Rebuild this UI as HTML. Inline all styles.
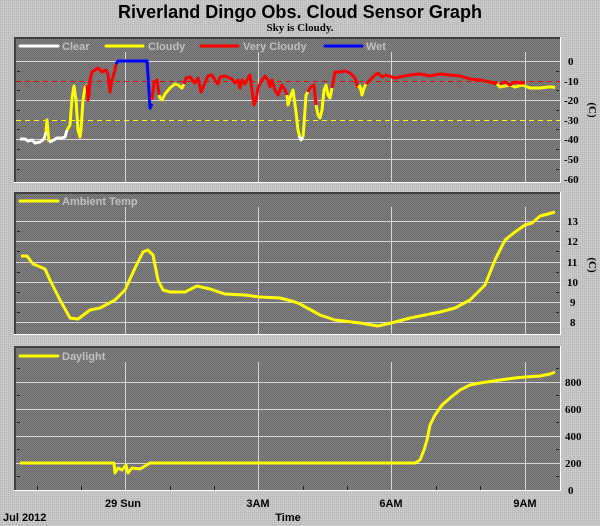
<!DOCTYPE html>
<html><head><meta charset="utf-8"><style>
html,body{margin:0;padding:0;background:#c4c4c4;}
svg{display:block;font-family:"Liberation Sans",sans-serif;}
</style></head><body>
<svg width="600" height="526" viewBox="0 0 600 526" xmlns="http://www.w3.org/2000/svg">
<defs>
<pattern id="pg" width="2" height="2" patternUnits="userSpaceOnUse"><rect width="2" height="2" fill="#c8c8c8"/><rect width="1" height="1" fill="#b4b4b4"/></pattern>
<pattern id="pn" width="2" height="2" patternUnits="userSpaceOnUse"><rect width="2" height="2" fill="#808080"/><rect width="1" height="1" fill="#6c6c6c"/><rect x="1" y="1" width="1" height="1" fill="#6c6c6c"/></pattern>
</defs>
<rect width="600" height="526" fill="url(#pg)"/>
<text x="300" y="18" text-anchor="middle" font-size="18" font-weight="bold" textLength="364" lengthAdjust="spacingAndGlyphs">Riverland Dingo Obs. Cloud Sensor Graph</text>
<text x="300" y="31" text-anchor="middle" font-size="11" font-weight="bold" font-family="Liberation Serif,serif">Sky is Cloudy.</text>

<g>
<rect x="14" y="37" width="546" height="145" fill="url(#pn)"/>
<rect x="14" y="37" width="546" height="2" fill="#404040"/><rect x="14" y="37" width="2" height="145" fill="#404040"/>
<rect x="14" y="182" width="546" height="1" fill="#fff"/><rect x="560" y="37" width="1" height="146" fill="#fff"/>
<rect x="14" y="192" width="546" height="142" fill="url(#pn)"/>
<rect x="14" y="192" width="546" height="2" fill="#404040"/><rect x="14" y="192" width="2" height="142" fill="#404040"/>
<rect x="14" y="334" width="546" height="1" fill="#fff"/><rect x="560" y="192" width="1" height="143" fill="#fff"/>
<rect x="14" y="346" width="546" height="144" fill="url(#pn)"/>
<rect x="14" y="346" width="546" height="2" fill="#404040"/><rect x="14" y="346" width="2" height="144" fill="#404040"/>
<rect x="14" y="490" width="546" height="1" fill="#fff"/><rect x="560" y="346" width="1" height="145" fill="#fff"/>
</g>

<g stroke="#d8d8d8" stroke-width="1" shape-rendering="crispEdges">
<path d="M16 61.5H560M16 100.5H560M16 139.5H560M16 159.5H560"/>
<path d="M125.5 52V182M258.5 52V182M391.5 52V182M525.5 52V182"/>
<path d="M16 221.5H560M16 241.5H560M16 262.5H560M16 282.5H560M16 302.5H560M16 322.5H560"/>
<path d="M125.5 207V334M258.5 207V334M391.5 207V334M525.5 207V334"/>
<path d="M16 382.5H560M16 409.5H560M16 436.5H560M16 463.5H560"/>
<path d="M125.5 362V490M258.5 362V490M391.5 362V490M525.5 362V490"/>
</g>
<g stroke="#202020" stroke-width="1" shape-rendering="crispEdges">
<path d="M17 71.5h3M17 90.5h3M17 110.5h3M17 129.5h3M17 149.5h3M17 169.5h3M556 71.5h3M556 90.5h3M556 110.5h3M556 129.5h3M556 149.5h3M556 169.5h3"/>
<path d="M17 231.5h3M17 251.5h3M17 272.5h3M17 292.5h3M17 312.5h3M556 231.5h3M556 251.5h3M556 272.5h3M556 292.5h3M556 312.5h3"/>
<path d="M17 368.5h3M17 395.5h3M17 422.5h3M17 449.5h3M17 476.5h3M556 368.5h3M556 395.5h3M556 422.5h3M556 449.5h3M556 476.5h3"/>
<path d="M37.5 486v4M81.5 486v4M170.5 486v4M214.5 486v4M303.5 486v4M347.5 486v4M436.5 486v4M480.5 486v4"/>
</g>
<path d="M16 81.5H560" stroke="#ff0000" stroke-width="1.2" stroke-dasharray="5,4" shape-rendering="crispEdges"/>
<path d="M16 120.5H560" stroke="#ffff00" stroke-width="1.2" stroke-dasharray="5,4" shape-rendering="crispEdges"/>

<g stroke-width="3" stroke-linecap="round" font-size="11" font-weight="bold" fill="#c0c0c0">
<path d="M20 46H58" stroke="#fff"/><text x="62" y="50">Clear</text>
<path d="M106 46H143" stroke="#ff0"/><text x="148" y="50">Cloudy</text>
<path d="M201 46H238" stroke="#f00"/><text x="243" y="50">Very Cloudy</text>
<path d="M325 46H362" stroke="#00f"/><text x="366" y="50">Wet</text>
<path d="M20 201H58" stroke="#ff0"/><text x="62" y="205">Ambient Temp</text>
<path d="M20 356H58" stroke="#ff0"/><text x="62" y="360">Daylight</text>
</g>

<g fill="none" stroke-width="3" stroke-linejoin="round">
<polyline stroke="#fff" points="20,139 25,139 28,141 32,140 35,143 40,142 44,139 46,132"/>
<polyline stroke="#ff0" points="46,132 47,120 49,142"/>
<polyline stroke="#fff" points="49,142 52,141 57,138 62,138 65,137 67,130"/>
<polyline stroke="#ff0" points="67,130 70,125 72,98 74,86 76,100 78,130 80,137 81,130 83,100 85,88 87,85"/>
<polyline stroke="#f00" points="87,85 88,100 89,95 90,80 92,72 95,70 98,68 102,72 106,70 108,74 110,92 112,80 115,70 116,64"/>
<polyline stroke="#00f" points="116,64 118,61 147,61 148,75 150,108 152,104"/>
<polyline stroke="#f00" points="152,100 154,82 157,80 159,95"/>
<polyline stroke="#ff0" points="159,95 160,98 162,100 165,94 170,88 175,84 178,85 182,88 184,84"/>
<polyline stroke="#f00" points="184,84 186,78 190,77 195,83 198,78 200,87 201,92 204,85 208,76 212,75 216,82 218,84 220,77 225,76 232,79 235,83 238,80 240,88 242,80 245,84 248,78 250,75 252,90 254,105 256,100 258,88 262,80 265,76 268,80 270,87 272,80 275,90 278,95 282,85 285,90 287,95"/>
<polyline stroke="#ff0" points="287,95 288,105 290,98 293,90 296,112 298,130 300,138"/>
<polyline stroke="#fff" points="299,136 301,140 303,137"/>
<polyline stroke="#ff0" points="303,137 304,125 306,95 308,92"/>
<polyline stroke="#f00" points="308,92 310,88 312,86 314,85 315,95 316,105"/>
<polyline stroke="#ff0" points="316,105 318,115 320,118 322,110 324,90 326,85 328,95 330,98 332,88"/>
<polyline stroke="#f00" points="332,88 335,72 340,72 345,71 350,73 355,78 358,88"/>
<polyline stroke="#ff0" points="358,88 360,86 362,95 364,88 366,84"/>
<polyline stroke="#f00" points="366,84 370,80 375,75 378,73 382,77 386,75 395,78 410,75 420,74 430,76 440,74 450,75 460,76 470,79 480,80 490,82 497,84"/>
<polyline stroke="#ff0" points="497,84 500,87 505,86 510,85 515,87 522,85 530,88 540,88 548,87 553,87 555,88"/>
<polyline stroke="#f00" points="500,84 505,82 510,85 515,82 520,83 525,83"/>
</g>

<polyline fill="none" stroke="#ff0" stroke-width="3" stroke-linejoin="round" points="21,256 27,256 33,264 38,266 45,269 50,280 60,300 70,318 78,319 90,310 100,308 115,300 125,290 135,268 143,252 148,250 153,255 158,280 163,290 170,292 185,292 197,286 210,289 225,294 245,295 260,297 280,298 295,302 300,304 320,315 335,320 360,323 378,326 395,322 410,318 440,312 455,308 470,300 485,285 495,260 505,240 515,232 525,225 532,223 540,216 548,214 555,212"/>

<polyline fill="none" stroke="#ff0" stroke-width="3" stroke-linejoin="round" points="20,463 114,463 115,473 118,468 122,470 126,465 128,473 132,468 140,469 145,466 150,463 415,463 420,460 424,450 427,440 430,425 435,415 442,405 450,398 460,390 470,385 480,383 500,380 515,378 525,377 540,376 550,374 555,372"/>

<g font-size="11" font-weight="bold" font-family="Liberation Serif,serif" fill="#000">
<text x="568" y="65">0</text><text x="564" y="85">-10</text><text x="564" y="104">-20</text><text x="564" y="124">-30</text><text x="564" y="143">-40</text><text x="564" y="163">-50</text><text x="564" y="183">-60</text>
<text x="567" y="225">13</text><text x="567" y="245">12</text><text x="567" y="266">11</text><text x="567" y="286">10</text><text x="570" y="306">9</text><text x="570" y="326">8</text>
<text x="565" y="386">800</text><text x="565" y="413">600</text><text x="565" y="440">400</text><text x="565" y="467">200</text><text x="568" y="494">0</text>
<text transform="translate(589,110) rotate(90)" text-anchor="middle">(C)</text>
<text transform="translate(589,265) rotate(90)" text-anchor="middle">(C)</text>
</g>
<g font-size="11" font-weight="bold" fill="#000">
<text x="123" y="507" text-anchor="middle">29 Sun</text>
<text x="258" y="507" text-anchor="middle">3AM</text>
<text x="391" y="507" text-anchor="middle">6AM</text>
<text x="525" y="507" text-anchor="middle">9AM</text>
<text x="288" y="521" text-anchor="middle">Time</text>
<text x="3" y="521">Jul 2012</text>
</g>
</svg>
</body></html>
